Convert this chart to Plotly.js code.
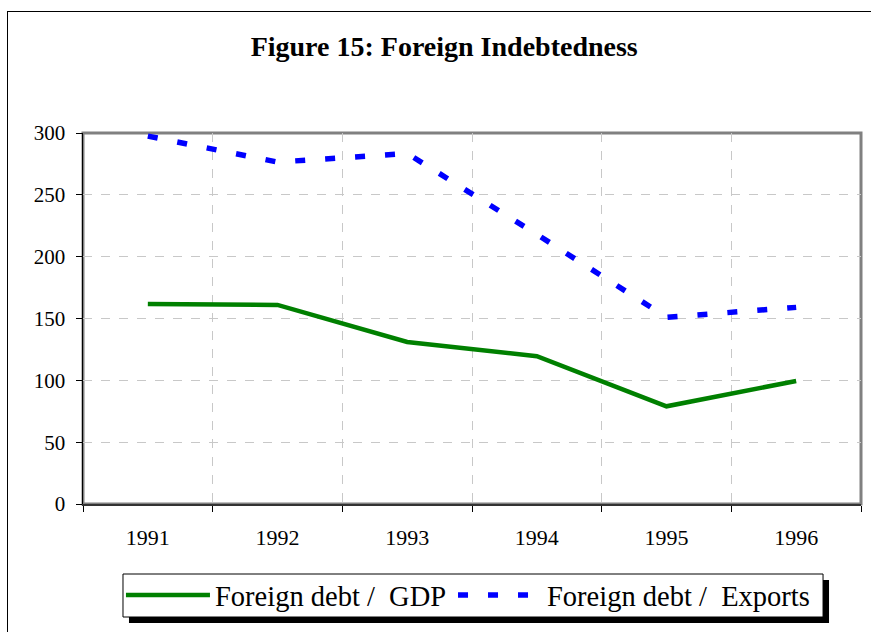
<!DOCTYPE html>
<html>
<head>
<meta charset="utf-8">
<script src="https://cdn.plot.ly/plotly-3.0.1.min.js"></script>
<style>
  html, body { margin: 0; padding: 0; background: #fff; }
  #wrap { position: relative; width: 871px; height: 632px; }
  #chart { position: absolute; left: 0; top: 0; width: 871px; height: 632px; }
  #frame { position: absolute; left: 7px; top: 11px; width: 880px; height: 640px; border: 1px solid #000; pointer-events: none; }
</style>
</head>
<body>
<div id="wrap">
  <div id="chart"></div>
  <div id="frame"></div>
</div>
<script>
const years = ['1991', '1992', '1993', '1994', '1995', '1996'];
const debtToGDP = [161.7, 161.0, 131.0, 119.5, 79.0, 99.5];
const debtToExports = [297.5, 276.5, 283.5, 218.0, 151.0, 159.0];
const seriesNames = ['Foreign debt /  GDP', 'Foreign debt /  Exports'];

const font = 'Liberation Serif, Times New Roman, serif';
const M = { l: 83, r: 10, t: 133, b: 128, autoexpand: false };
const W = 871, H = 632;

const traces = [
  {
    x: years, y: debtToGDP, name: seriesNames[0], type: 'scatter', mode: 'lines',
    line: { color: '#008000', width: 4.5 }, legend: 'legend'
  },
  {
    x: years, y: debtToExports, name: seriesNames[1], type: 'scatter', mode: 'lines',
    line: { color: '#0000ff', width: 5.5, dash: '10px,20px' }, legend: 'legend2'
  }
];

const legendStyle = {
  orientation: 'h', xanchor: 'left', yanchor: 'top', y: -0.178,
  bgcolor: 'rgba(0,0,0,0)', borderwidth: 0,
  font: { family: font, size: 28.5, color: '#000' },
  itemwidth: 84
};

const layout = {
  width: W, height: H,
  margin: M,
  paper_bgcolor: '#fff', plot_bgcolor: '#fff',
  font: { family: font, color: '#000', size: 20 },
  title: {
    text: '<b>Figure 15: Foreign Indebtedness</b>',
    font: { family: font, size: 28, color: '#000' },
    x: 0.51, xanchor: 'center', y: 0.927, yanchor: 'middle'
  },
  xaxis: {
    type: 'category',
    range: [-0.5, 5.5],
    automargin: false,
    tickson: 'boundaries',
    ticks: 'outside', ticklen: 6, tickcolor: '#000', tickwidth: 1,
    ticklabelstandoff: 13,
    showline: true, linecolor: '#333', linewidth: 2,
    showgrid: true, gridcolor: '#c8c8c8', griddash: 'dash', gridwidth: 1,
    tickfont: { family: font, size: 22, color: '#000' },
    fixedrange: true
  },
  yaxis: {
    range: [0, 300], dtick: 50, tick0: 0,
    automargin: false,
    ticks: 'outside', ticklen: 6, tickcolor: '#000',
    ticklabelstandoff: 6,
    showline: true, linecolor: '#000', linewidth: 1.5,
    showgrid: true, gridcolor: '#c8c8c8', griddash: 'dash', gridwidth: 1,
    zeroline: false,
    tickfont: { family: font, size: 21, color: '#000' },
    fixedrange: true
  },
  shapes: [
    { type: 'rect', xref: 'paper', yref: 'paper', x0: 0, x1: 1, y0: 0, y1: 1,
      line: { color: '#808080', width: 3 }, layer: 'below' },
    { type: 'rect', xref: 'paper', yref: 'paper',
      x0: 0.0591, x1: 0.9589, y0: -0.3208, y1: -0.2049,
      fillcolor: '#000', line: { width: 0 }, layer: 'above' },
    { type: 'rect', xref: 'paper', yref: 'paper',
      x0: 0.0514, x1: 0.9512, y0: -0.3046, y1: -0.1887,
      fillcolor: '#fff', line: { color: '#000', width: 1 }, layer: 'above' }
  ],
  showlegend: true,
  legend: Object.assign({}, legendStyle, { x: 0.0488 }),
  legend2: Object.assign({}, legendStyle, { x: 0.4756 })
};

Plotly.newPlot('chart', traces, layout, { displayModeBar: false, staticPlot: true });
</script>
</body>
</html>
